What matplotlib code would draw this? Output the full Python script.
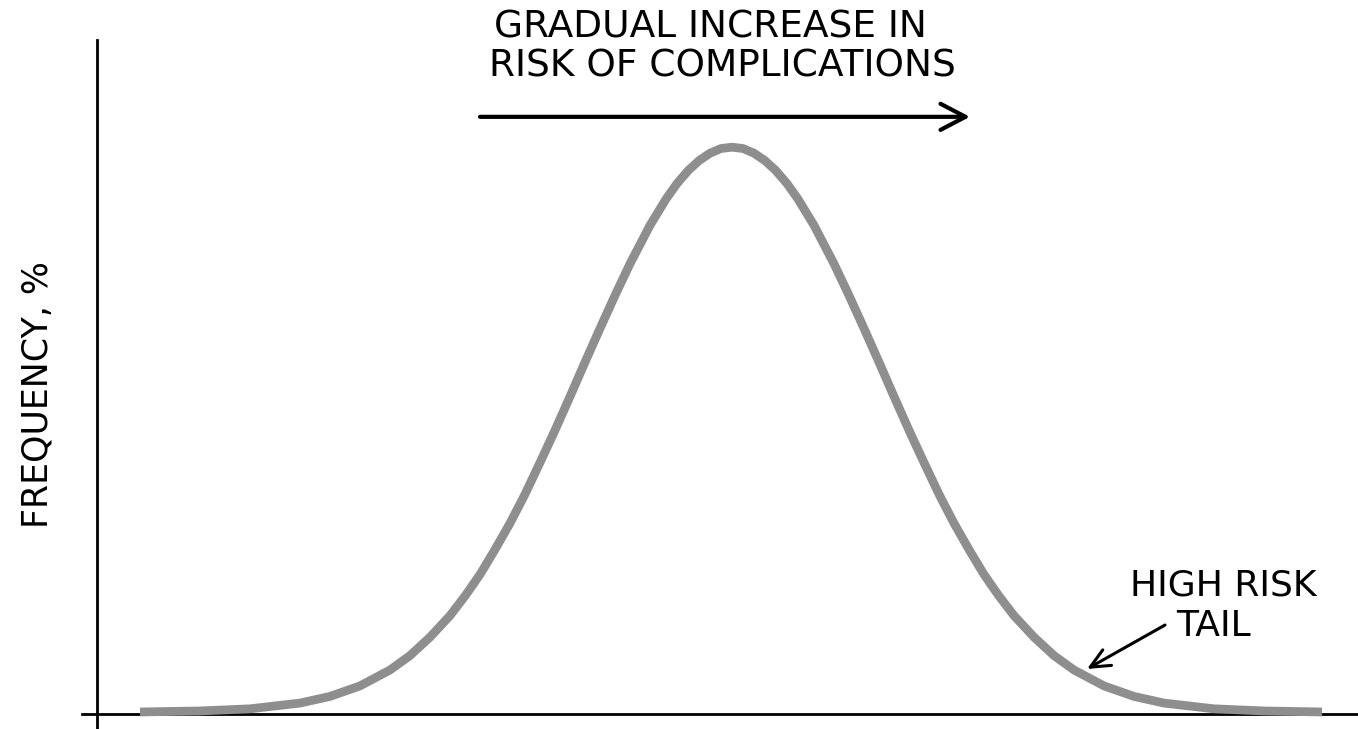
import matplotlib
matplotlib.use("Agg")
import matplotlib.pyplot as plt

# bell curve (risk score vs frequency %)
risk = [0.43, 1.03, 1.53, 2.03, 2.33, 2.63, 2.93, 3.13, 3.33, 3.53, 3.68, 3.83,
        3.98, 4.13, 4.28, 4.43, 4.58, 4.73, 4.88, 5.03, 5.18, 5.33, 5.53, 5.69,
        5.80, 5.91, 6.02, 6.13, 6.24, 6.35, 6.46, 6.57, 6.68, 6.79, 6.90, 7.01,
        7.17, 7.37, 7.52, 7.67, 7.82, 7.97, 8.12, 8.27, 8.42, 8.57, 8.72, 8.87,
        9.02, 9.17, 9.37, 9.57, 9.77, 10.07, 10.37, 10.67, 11.17, 11.67, 12.25]
freq = [0.3, 0.45, 0.77, 1.62, 2.61, 4.17, 6.53, 8.67, 11.4, 14.6, 17.5, 20.7,
        24.4, 28.3, 32.6, 37.3, 42.1, 47.1, 52.2, 57.2, 62.1, 66.8, 72.5, 76.4,
        78.7, 80.6, 82.1, 83.2, 83.9, 84.1, 83.9, 83.2, 82.1, 80.6, 78.7, 76.4,
        72.5, 66.8, 62.1, 57.2, 52.2, 47.1, 42.1, 37.3, 32.6, 28.3, 24.4, 20.7,
        17.5, 14.6, 11.4, 8.67, 6.53, 4.17, 2.61, 1.62, 0.77, 0.45, 0.3]

top_lines = ["GRADUAL INCREASE IN", "RISK OF COMPLICATIONS"]
tail_lines = ["HIGH RISK", "TAIL"]
y_label = "FREQUENCY, %"

W, H = 1358, 729
fig = plt.figure(figsize=(W / 100, H / 100), dpi=100)
ax = fig.add_axes([97 / W, 15 / H, (W - 97) / W, (714 - 40) / H])
ax.set_xlim(0, 12.61)
ax.set_ylim(0, 100)
ax.set_xticks([])
ax.set_yticks([])
for s in ax.spines.values():
    s.set_visible(False)

# axis lines crossing a little past the origin
ax.plot([0, 0], [-15 / 674, 1], transform=ax.transAxes, color="black", lw=2, clip_on=False)
ax.plot([-15 / 1261, 1], [0, 0], transform=ax.transAxes, color="black", lw=2, clip_on=False)

ax.plot(risk, freq, color="#8e8e8e", lw=6.3, solid_capstyle="butt",
        solid_joinstyle="round", clip_on=False)

font = "DejaVu Sans"
ax.text(6.13, 101.9, top_lines[0], ha="center", va="center", fontsize=27,
        family=font, clip_on=False)
ax.text(6.25, 96.0, top_lines[1], ha="center", va="center", fontsize=27,
        family=font, clip_on=False)
ax.annotate("", xy=(8.73, 88.6), xytext=(3.83, 88.6),
            arrowprops=dict(arrowstyle="->,head_length=0.9,head_width=0.47",
                            lw=3, color="black", mutation_scale=20,
                            shrinkA=0, shrinkB=0),
            annotation_clip=False)

ax.text(11.26, 19.0, tail_lines[0], ha="center", va="center", fontsize=26, family=font)
ax.text(11.16, 13.06, tail_lines[1], ha="center", va="center", fontsize=26, family=font)
ax.annotate("", xy=(9.90, 6.68), xytext=(10.68, 13.2),
            arrowprops=dict(arrowstyle="->,head_length=0.7,head_width=0.32",
                            lw=2.2, color="black", mutation_scale=20,
                            shrinkA=0, shrinkB=0))

fig.text(38 / W, 1 - 395 / H, y_label, rotation=90, ha="center", va="center",
         fontsize=25, family=font)

fig.savefig("out.png", dpi=100)
plt.close(fig)
